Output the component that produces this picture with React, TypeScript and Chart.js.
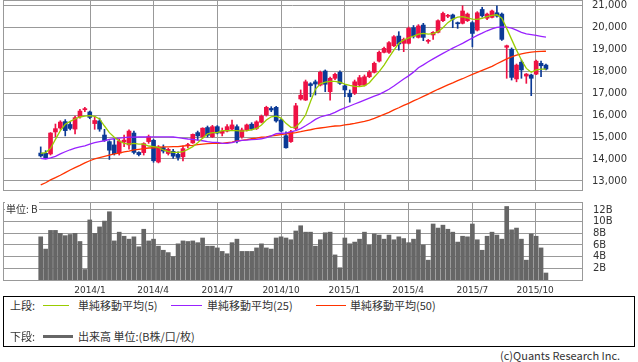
import { useEffect, useRef } from "react";
import { Chart, registerables } from "chart.js";
Chart.register(...registerables);

// ---- data (weekly, index 0 = first week shown) ----
const opens = [
  14270, 14260, 14230, 15230, 15410, 15700, 15570, 15360, 15920, 16240,
  16140, 15610, 15730, 15090, 14790, 14640, 14270, 14770, 14640, 15180,
  14300, 14290, 14790, 14850, 13860, 14520, 14250, 14350, 14210, 14100,
  14610, 14730, 15200, 15000, 15430, 15010, 15470, 15170, 15270, 15360,
  15470, 15010, 15320, 15580, 15390, 15670, 16000, 16300, 16350, 15770,
  15060, 14790, 15390, 16730, 16680, 17420, 17510, 17360, 18000, 17060,
  17670, 17940, 17330, 16990, 16990, 17360, 17360, 17740, 17940, 18450,
  18850, 18850, 19150, 19590, 19260, 19260, 19970, 19530, 20090, 19350,
  19640, 19760, 20290, 20490, 20550, 20200, 20170, 20290, 20200, 19860,
  20800, 20400, 20440, 20650, 20590, 19080, 18990, 17640, 18400, 17770,
  17820, 17860, 18350, 18270,
];
const highs = [
  14550, 14380, 15200, 15590, 15740, 15790, 15700, 15950, 16260, 16350,
  16180, 15940, 15860, 15350, 14830, 14920, 14900, 15090, 15330, 15270,
  14330, 14740, 15090, 14900, 14610, 14640, 14490, 14440, 14330, 14590,
  14710, 15140, 15270, 15420, 15500, 15530, 15520, 15410, 15570, 15770,
  15550, 15410, 15590, 15650, 15740, 16000, 16400, 16380, 16390, 15840,
  15230, 15300, 16530, 17140, 17590, 17470, 17590, 18000, 18050, 17730,
  17910, 18010, 17390, 17140, 17590, 17800, 17820, 18020, 18410, 18910,
  19090, 19340, 19610, 19790, 19500, 20000, 20070, 20110, 20170, 19440,
  19790, 20330, 20680, 20580, 20590, 20230, 20970, 20640, 20250, 20700,
  20900, 20640, 20770, 20970, 20640, 19180, 19050, 18320, 18500, 17890,
  17860, 18500, 18450, 18320,
];
const lows = [
  14090, 14010, 14180, 15010, 15350, 15050, 15320, 15140, 15860, 16150,
  15830, 15350, 15260, 14800, 13980, 14180, 14180, 14560, 14450, 14230,
  14140, 14180, 14710, 13850, 13820, 14270, 14180, 14030, 13950, 13910,
  14500, 14710, 14860, 14950, 15000, 14980, 15140, 15050, 15230, 15320,
  14730, 14950, 15270, 15320, 15340, 15640, 15950, 16150, 15680, 15240,
  14490, 14750, 15320, 16680, 16660, 16830, 16910, 17320, 17060, 16680,
  17610, 17390, 16830, 16580, 16930, 17300, 17320, 17700, 17910, 18410,
  18820, 18800, 19110, 18950, 18880, 19230, 19500, 19500, 19380, 19260,
  19440, 19730, 20250, 20430, 19970, 19940, 20140, 20250, 19100, 19820,
  20450, 20340, 20410, 20450, 19390, 17670, 17590, 17510, 17670, 17440,
  16880, 17840, 17740, 18050,
];
const closes = [
  14140, 14050, 15180, 15380, 15680, 15290, 15390, 15880, 16180, 16290,
  15890, 15750, 15360, 14840, 14400, 14240, 14820, 14860, 15270, 14300,
  14200, 14700, 15010, 13920, 14550, 14360, 14440, 14130, 14070, 14470,
  14650, 15120, 15050, 15400, 15080, 15470, 15180, 15270, 15470, 15550,
  14820, 15320, 15550, 15360, 15690, 15950, 16350, 16230, 15730, 15270,
  14510, 15240, 16420, 16900, 17510, 17340, 17410, 17940, 17400, 17670,
  17850, 17440, 17140, 16830, 17510, 17700, 17740, 17940, 18350, 18850,
  19030, 19290, 19560, 19230, 19440, 19940, 19590, 20050, 19530, 19390,
  19760, 20290, 20620, 20510, 20360, 20150, 20730, 20590, 19710, 20650,
  20510, 20590, 20730, 20500, 19440, 19150, 17710, 18270, 18050, 17860,
  17670, 18450, 18240, 18090,
];
const ma5 = [
  14260, 14290, 14480, 14890, 15290, 15580, 15710, 15820, 15910, 15950,
  15970, 15940, 15820, 15500, 15200, 14990, 14820, 14710, 14680, 14710,
  14680, 14680, 14590, 14560, 14530, 14410, 14330, 14300, 14300, 14330,
  14440, 14560, 14740, 14940, 15140, 15200, 15200, 15290, 15290, 15290,
  15290, 15270, 15290, 15330, 15390, 15550, 15770, 15920, 15950, 15860,
  15620, 15440, 15450, 15680, 16000, 16610, 17170, 17420, 17500, 17530,
  17530, 17490, 17410, 17350, 17300, 17290, 17330, 17470, 17730, 17970,
  18270, 18620, 18950, 19260, 19410, 19510, 19590, 19680, 19710, 19680,
  19700, 19790, 19970, 20200, 20360, 20450, 20470, 20420, 20360, 20350,
  20400, 20470, 20530, 20560, 20400, 19940, 19440, 18950, 18500, 18120,
  17940, 18050, 18090, 18090,
];
const ma25 = [
  14030, 14000, 14050, 14120, 14230, 14330, 14420, 14490, 14550, 14600,
  14680, 14740, 14790, 14830, 14890, 14920, 14950, 14970, 14990, 14990,
  15000, 15000, 15010, 15010, 15010, 15010, 15010, 15000, 14970, 14940,
  14910, 14890, 14860, 14830, 14790, 14760, 14760, 14710, 14710, 14740,
  14800, 14850, 14860, 14880, 14890, 14920, 14970, 15050, 15150, 15170,
  15180, 15230, 15290, 15380, 15510, 15650, 15800, 15910, 15970, 16030,
  16120, 16230, 16320, 16410, 16500, 16590, 16680, 16770, 16860, 16940,
  17050, 17170, 17320, 17480, 17640, 17780, 17950, 18150, 18280, 18420,
  18550, 18680, 18800, 18920, 19040, 19150, 19260, 19380, 19500, 19620,
  19720, 19830, 19920, 19990, 20010, 20000, 19950, 19860, 19760, 19690,
  19660, 19620, 19580, 19540,
];
const ma50 = [
  12820, 12920, 13050, 13150, 13260, 13380, 13500, 13610, 13710, 13820,
  13920, 14000, 14060, 14120, 14180, 14230, 14270, 14320, 14360, 14410,
  14440, 14470, 14500, 14510, 14530, 14550, 14550, 14560, 14560, 14590,
  14610, 14620, 14650, 14680, 14700, 14710, 14710, 14710, 14740, 14770,
  14820, 14850, 14880, 14920, 14950, 14990, 15010, 15050, 15080, 15110,
  15140, 15170, 15200, 15240, 15290, 15330, 15380, 15410, 15440, 15470,
  15500, 15510, 15550, 15580, 15620, 15670, 15710, 15770, 15850, 15940,
  16030, 16120, 16230, 16330, 16440, 16530, 16640, 16740, 16850, 16950,
  17060, 17170, 17270, 17370, 17460, 17560, 17650, 17750, 17850, 17940,
  18030, 18120, 18210, 18330, 18440, 18550, 18640, 18720, 18780, 18830,
  18860, 18880, 18890, 18900,
];
const volumes = [
  7.4, 5.3, 8.5, 8.5, 8.0, 7.6, 7.8, 8.0, 6.6, 1.8,
  10.3, 8.0, 9.1, 10.1, 11.7, 6.7, 8.2, 7.5, 7.0, 7.4,
  5.7, 8.7, 6.7, 7.0, 5.8, 5.1, 4.7, 4.0, 6.2, 6.7,
  6.6, 6.7, 6.4, 7.2, 5.8, 5.8, 5.5, 4.9, 4.5, 6.4,
  7.0, 4.9, 4.9, 4.9, 5.5, 6.2, 5.5, 5.3, 7.2, 7.4,
  7.2, 6.9, 8.4, 9.3, 8.2, 8.2, 5.8, 6.9, 8.1, 8.2,
  4.3, 2.1, 7.2, 6.2, 6.5, 7.0, 8.2, 6.0, 7.9, 7.7,
  7.0, 7.7, 6.9, 7.4, 7.1, 6.4, 7.0, 8.6, 6.0, 3.4,
  9.6, 8.9, 9.4, 8.7, 8.2, 6.5, 7.5, 7.4, 9.6, 6.9,
  5.1, 7.5, 8.2, 7.7, 7.0, 12.6, 8.6, 8.9, 7.0, 3.4,
  7.9, 7.5, 5.5, 1.2,
];
const monthTickPos = [10.05, 22.9, 36, 49, 61.9, 74.9, 88, 100.8];
const monthTickLabels = ["2014/1", "2014/4", "2014/7", "2014/10", "2015/1", "2015/4", "2015/7", "2015/10"];
const priceTicks = [13000, 14000, 15000, 16000, 17000, 18000, 19000, 20000, 21000];
const volumeTicks = [2, 4, 6, 8, 10, 12];

// ---- styling ----
const X_MIN = -7.69;
const X_MAX = 110.35;
const PRICE_MIN = 12590;
const PRICE_MAX = 21230;
const VOL_MAX = 13.37;
const UP = "#ee1144";
const DOWN = "#0b3a96";
const GRID = "#999999";
const TEXT = "#333333";
const CJK = '"Noto Sans CJK JP", "Noto Sans", sans-serif';

const framePlugin = {
  id: "frame",
  afterDatasetsDraw(chart: any) {
    const { ctx, chartArea: a } = chart;
    ctx.save();
    ctx.strokeStyle = GRID;
    ctx.lineWidth = 1;
    ctx.strokeRect(a.left + 0.5, a.top + 0.5, a.right - a.left, a.bottom - a.top);
    ctx.restore();
  },
};

function xScale(showLabels: boolean) {
  return {
    type: "linear",
    min: X_MIN,
    max: X_MAX,
    bounds: "data",
    offset: false,
    grid: { color: GRID, lineWidth: 1, drawTicks: false, offset: false },
    border: { display: false },
    afterBuildTicks: (s: any) => {
      s.ticks = monthTickPos.map((v) => ({ value: v }));
    },
    afterFit: (s: any) => {
      s.height = showLabels ? 15 : 0;
      s.paddingLeft = 0;
      s.paddingRight = 0;
    },
    ticks: {
      display: showLabels,
      autoSkip: false,
      maxRotation: 0,
      minRotation: 0,
      padding: 5,
      color: TEXT,
      font: { family: "DejaVu Sans", size: 9 },
      callback: (v: number) => {
        const i = monthTickPos.findIndex((p) => Math.abs(p - v) < 1e-6);
        return i >= 0 ? monthTickLabels[i] : "";
      },
    },
  };
}

function PriceChart() {
  const ref = useRef<HTMLCanvasElement>(null);
  useEffect(() => {
    const idx = closes.map((_, i) => i);
    const colors = idx.map((i) => (closes[i] >= opens[i] ? UP : DOWN));
    const chart = new Chart(ref.current as HTMLCanvasElement, {
      type: "bar",
      data: {
        datasets: [
          {
            type: "line",
            data: idx.map((i) => ({ x: i, y: ma5[i] })),
            borderColor: "#99cc00",
            borderWidth: 1.3,
            pointRadius: 0,
            tension: 0,
            order: 0,
          } as any,
          {
            type: "line",
            data: idx.map((i) => ({ x: i, y: ma25[i] })),
            borderColor: "#9922ff",
            borderWidth: 1.3,
            pointRadius: 0,
            tension: 0,
            order: 0,
          } as any,
          {
            type: "line",
            data: idx.map((i) => ({ x: i, y: ma50[i] })),
            borderColor: "#ff3300",
            borderWidth: 1.3,
            pointRadius: 0,
            tension: 0,
            order: 0,
          } as any,
          {
            type: "bar",
            data: idx.map((i) => ({ x: i, y: [opens[i], closes[i]] })),
            backgroundColor: colors,
            barThickness: 4,
            minBarLength: 1,
            grouped: false,
            order: 1,
          } as any,
          {
            type: "bar",
            data: idx.map((i) => ({ x: i, y: [lows[i], highs[i]] })),
            backgroundColor: colors,
            barThickness: 1,
            grouped: false,
            order: 2,
          } as any,
        ],
      },
      options: {
        responsive: false,
        animation: false,
        devicePixelRatio: 1,
        events: [],
        layout: { padding: { left: 3, top: 0, right: 0, bottom: 2 } },
        plugins: { legend: { display: false }, tooltip: { enabled: false } },
        scales: {
          x: xScale(false) as any,
          y: {
            type: "linear",
            position: "right",
            min: PRICE_MIN,
            max: PRICE_MAX,
            bounds: "data",
            grid: { color: GRID, lineWidth: 1, drawTicks: false },
            border: { display: false },
            afterBuildTicks: (s: any) => {
              s.ticks = priceTicks.map((v) => ({ value: v }));
            },
            afterFit: (s: any) => {
              s.width = 56;
              s.paddingTop = 0;
              s.paddingBottom = 0;
            },
            ticks: {
              padding: 10,
              color: TEXT,
              font: { family: "DejaVu Sans", size: 10 },
              callback: (v: number) => v.toLocaleString("en-US"),
            },
          },
        },
      },
      plugins: [framePlugin],
    });
    return () => chart.destroy();
  }, []);
  return (
    <canvas
      ref={ref}
      width={638}
      height={192}
      style={{ position: "absolute", left: 0, top: 0, width: 638, height: 192 }}
    />
  );
}

function VolumeChart() {
  const ref = useRef<HTMLCanvasElement>(null);
  useEffect(() => {
    const chart = new Chart(ref.current as HTMLCanvasElement, {
      type: "bar",
      data: {
        datasets: [
          {
            data: volumes.map((v, i) => ({ x: i, y: v })),
            backgroundColor: "#666666",
            barThickness: 4,
          } as any,
        ],
      },
      options: {
        responsive: false,
        animation: false,
        devicePixelRatio: 1,
        events: [],
        layout: { padding: { left: 3, top: 7, right: 0, bottom: 0 } },
        plugins: { legend: { display: false }, tooltip: { enabled: false } },
        scales: {
          x: xScale(true) as any,
          y: {
            type: "linear",
            position: "right",
            min: 0,
            max: VOL_MAX,
            bounds: "data",
            grid: { color: GRID, lineWidth: 1, drawTicks: false },
            border: { display: false },
            afterBuildTicks: (s: any) => {
              s.ticks = volumeTicks.map((v) => ({ value: v }));
            },
            afterFit: (s: any) => {
              s.width = 56;
              s.paddingTop = 0;
              s.paddingBottom = 0;
            },
            ticks: {
              padding: 11,
              color: TEXT,
              font: { family: "DejaVu Sans", size: 10 },
              callback: (v: number) => v + "B",
            },
          },
        },
      },
      plugins: [framePlugin],
    });
    return () => chart.destroy();
  }, []);
  return (
    <canvas
      ref={ref}
      width={638}
      height={100}
      style={{ position: "absolute", left: 0, top: 195, width: 638, height: 100 }}
    />
  );
}

const txt = (left: number, top: number, s: string, extra: any = {}) => (
  <div
    style={{
      position: "absolute",
      left,
      top,
      fontFamily: CJK,
      fontSize: 11,
      lineHeight: "14px",
      color: TEXT,
      whiteSpace: "nowrap",
      ...extra,
    }}
  >
    {s}
  </div>
);

const line = (left: number, top: number, width: number, color: string, h = 1) => (
  <div style={{ position: "absolute", left, top, width, height: h, background: color }} />
);

export default function App() {
  return (
    <div
      style={{
        position: "absolute",
        left: 0,
        top: 0,
        width: 638,
        height: 362,
        background: "#fff",
        overflow: "hidden",
      }}
    >
      <PriceChart />
      <VolumeChart />
      {txt(5, 202, "単位: B", { fontSize: 10, background: "#fff", padding: "0 1px" })}
      <div
        style={{
          position: "absolute",
          left: 3,
          top: 296,
          width: 632,
          height: 51,
          border: "1px solid #000",
          boxSizing: "border-box",
        }}
      />
      {txt(10, 298, "上段:")}
      {line(43, 305, 26, "#99cc00")}
      {txt(78, 298, "単純移動平均(5)")}
      {line(171, 305, 31, "#9922ff")}
      {txt(207, 298, "単純移動平均(25)")}
      {line(316, 305, 30, "#ff3300")}
      {txt(350, 298, "単純移動平均(50)")}
      {txt(10, 329, "下段:")}
      {line(43, 335, 30, "#666666", 3)}
      {txt(78, 329, "出来高 単位:(B株/口/枚)")}
      {txt(500, 348, "(c)Quants Research Inc.", { width: 118, textAlign: "right" })}
    </div>
  );
}
